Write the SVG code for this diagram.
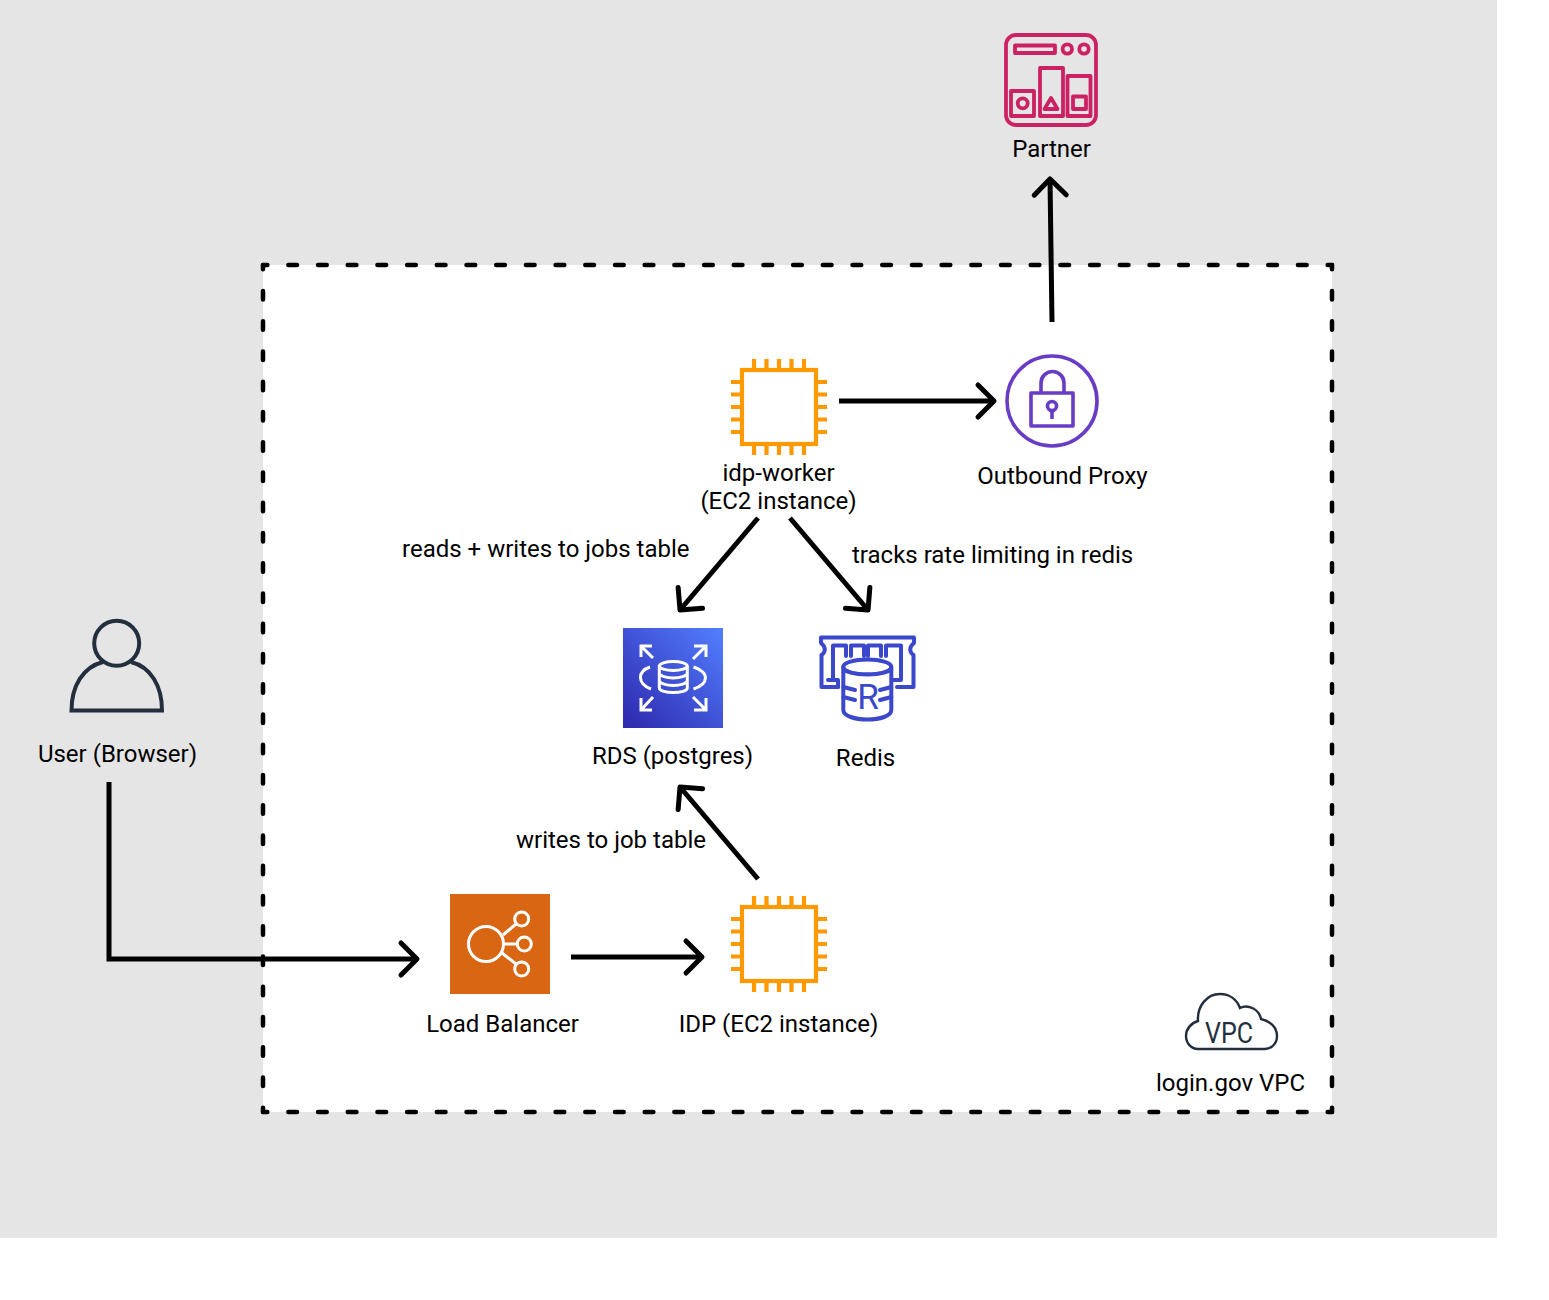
<svg xmlns="http://www.w3.org/2000/svg" width="1549" height="1300" viewBox="0 0 1549 1300">
<style>
text{font-family:Roboto,"Liberation Sans",sans-serif;font-size:24px;fill:#000}
.m{text-anchor:middle}
.conn{fill:none;stroke:#000;stroke-width:5;marker-end:url(#chev)}
.h{fill:none;stroke:#000;stroke-width:4.500;stroke-linecap:round;stroke-dasharray:8.700 20.994;stroke-dashoffset:4.350}
.v{fill:none;stroke:#000;stroke-width:4.500;stroke-linecap:round;stroke-dasharray:8.700 21.550;stroke-dashoffset:4.350}
.ec2{fill:none;stroke:#F90;stroke-width:4.200}
.pink{fill:none;stroke:#CC2264;stroke-width:3.800;stroke-linejoin:round}
.pur{fill:none;stroke:#693CC5;stroke-width:3.600;stroke-linejoin:round}
.wh{fill:none;stroke:#fff;stroke-width:3}
.blu{fill:none;stroke:#3B48CC;stroke-width:4;stroke-linejoin:round;stroke-linecap:round}
.nav{fill:none;stroke:#232F3E}
</style>
<defs>
<marker id="chev" markerUnits="userSpaceOnUse" markerWidth="50" markerHeight="50" refX="25" refY="25" orient="auto" viewBox="0 0 50 50">
<path d="M9 9L25 25L9 41" fill="none" stroke="#000" stroke-width="5" stroke-linecap="round" stroke-linejoin="round"/>
</marker>
<linearGradient id="rdsg" x1="0" y1="1" x2="1" y2="0"><stop offset="0" stop-color="#2E27AD"/><stop offset="1" stop-color="#527FFF"/></linearGradient>
<g id="chip">
<rect class="ec2" x="-37" y="-37" width="74" height="74"/>
<path class="ec2" d="M-25-37V-48M-12.500-37V-48M0-37V-48M12.500-37V-48M25-37V-48M-25 37V48M-12.500 37V48M0 37V48M12.500 37V48M25 37V48M-37-25H-48M-37-12.500H-48M-37 0H-48M-37 12.500H-48M-37 25H-48M37-25H48M37-12.500H48M37 0H48M37 12.500H48M37 25H48"/>
</g>
</defs>
<rect width="1549" height="1300" fill="#fff"/>
<rect width="1497" height="1238" fill="#E5E5E5"/>
<g id="vpc">
<rect x="263" y="265" width="1069" height="847" fill="#fff"/>
<path class="h" d="M263 265H1332M263 1112H1332"/>
<path class="v" d="M263 265V1112M1332 265V1112"/>
<path class="nav" stroke-width="2.400" d="M1198 1049C1191 1049 1186 1043 1186 1036C1186 1029 1191 1023 1198 1021C1197 1006 1207 994 1220 994C1230 994 1237 1000 1240 1008C1248 1004 1259 1009 1261 1019C1270 1021 1277 1027 1277 1036C1277 1044 1271 1049 1265 1049Z"/>
<text x="1229" y="1043" class="m" style="font-size:30px;fill:#232F3E" textLength="48" lengthAdjust="spacingAndGlyphs">VPC</text>
<text x="1230.500" y="1091" class="m">login.gov VPC</text>
</g>
<g id="connectors">
<path class="conn" d="M109 782V959H417"/>
<path class="conn" d="M571 957H702"/>
<path class="conn" d="M758 879L680 787"/>
<path class="conn" d="M839 401H994"/>
<path class="conn" d="M758 518L680 610"/>
<path class="conn" d="M790 518L868 610"/>
<path class="conn" d="M1052 322L1050 179"/>
</g>
<g id="partner">
<rect class="pink" x="1006" y="35" width="90" height="90" rx="10"/>
<rect class="pink" x="1015" y="45.500" width="40" height="7.500"/>
<circle class="pink" cx="1067.300" cy="49" r="4.700"/>
<circle class="pink" cx="1084" cy="49" r="4.700"/>
<rect class="pink" x="1011" y="91" width="23" height="25"/>
<rect class="pink" x="1040" y="68" width="23" height="48"/>
<rect class="pink" x="1067.500" y="76" width="23" height="40"/>
<circle class="pink" cx="1022.700" cy="103.300" r="5"/>
<path class="pink" d="M1051 98L1044.500 109H1057.500Z"/>
<rect class="pink" x="1073" y="96.500" width="13" height="12.500"/>
<text x="1051.500" y="157" class="m">Partner</text>
</g>
<g id="proxy">
<circle class="pur" cx="1052" cy="401" r="45"/>
<rect class="pur" x="1031" y="393" width="42" height="33"/>
<path class="pur" d="M1041 393V383A11.500 11.500 0 0 1 1064 383V393"/>
<circle class="pur" cx="1052" cy="406" r="4.500"/>
<path class="pur" d="M1052 410.500V419"/>
<text x="1062.500" y="484" class="m">Outbound Proxy</text>
</g>
<g id="idp-worker">
<use href="#chip" x="779" y="407"/>
<text x="778.500" y="481" class="m">idp-worker</text>
<text x="778.500" y="509" class="m">(EC2 instance)</text>
</g>
<g id="rds">
<rect x="623" y="628" width="100" height="100" fill="url(#rdsg)"/>
<path class="wh" d="M641 657V646H652M641 646L653 658M694 646H706V657M706 646L693 659M641 698V710H652M641 710L653 697M694 710H706V698M706 710L693 697"/>
<ellipse class="wh" cx="673.300" cy="666" rx="14" ry="4.500"/>
<path class="wh" d="M659.300 666V688C659.300 691 667 692.500 673.300 692.500C680 692.500 687.300 691 687.300 688V666M659.300 673C659.300 676 667 678 673.300 678C680 678 687.300 676 687.300 673M659.300 680.500C659.300 683.500 667 685.500 673.300 685.500C680 685.500 687.300 683.500 687.300 680.500"/>
<path class="wh" d="M650 667C644 669 640.500 673 640.500 677.500C640.500 682 644.500 686.500 651 689M693.500 667C700 669 705.500 673 705.500 677.500C705.500 682 701 686.500 693.500 689"/>
<text x="672.500" y="764" class="m">RDS (postgres)</text>
</g>
<g id="redis">
<path class="blu" d="M838 687H821.500V655C826 652 826 647 821 643V637.500H914V643C909 647 909 652 913.500 655V687H897"/>
<path class="blu" d="M833 680V645.500H846V656M851 656V645.500H864V656M868 656V645.500H881V656M886 656V645.500H901V680H892M828 680H838M838 687V680"/>
<ellipse class="blu" cx="867.300" cy="667" rx="24" ry="7.500" style="fill:#fff"/>
<path class="blu" style="fill:#fff" d="M843.300 667V710C843.300 716 855 719.500 867.300 719.500C880 719.500 891.300 716 891.300 710V667C891.300 672 880 674.500 867.300 674.500C855 674.500 843.300 672 843.300 667Z"/>
<path class="blu" d="M843.300 687L855 690M843.300 697L855 700M891.300 687L880 690M891.300 697L880 700"/>
<text x="868" y="709" class="m" style="font-size:35px;fill:#3B48CC">R</text>
<text x="865.500" y="766" class="m">Redis</text>
</g>
<g id="user">
<circle class="nav" stroke-width="4" cx="116.700" cy="643.300" r="22.500"/>
<path class="nav" stroke-width="4" d="M103 662C83 667 71.500 686 71.500 710.500H162C162 686 151 667 131 662"/>
<text x="117.500" y="762" class="m">User (Browser)</text>
</g>
<g id="load-balancer">
<rect x="450" y="894" width="100" height="100" fill="#D86613"/>
<g class="wh" style="stroke-width:3">
<circle cx="486" cy="944" r="17.500"/>
<circle cx="521.700" cy="919" r="7"/>
<circle cx="524.300" cy="944" r="7"/>
<circle cx="521.700" cy="969" r="7"/>
<path d="M503 935L516 924M504 944H517M502 953L516 964"/>
</g>
<text x="502.500" y="1032" class="m">Load Balancer</text>
</g>
<g id="idp">
<use href="#chip" x="779" y="944"/>
<text x="778.500" y="1032" class="m">IDP (EC2 instance)</text>
</g>
<g id="labels">
<text x="402" y="557">reads + writes to jobs table</text>
<text x="852" y="563">tracks rate limiting in redis</text>
<text x="516" y="848">writes to job table</text>
</g>
</svg>
